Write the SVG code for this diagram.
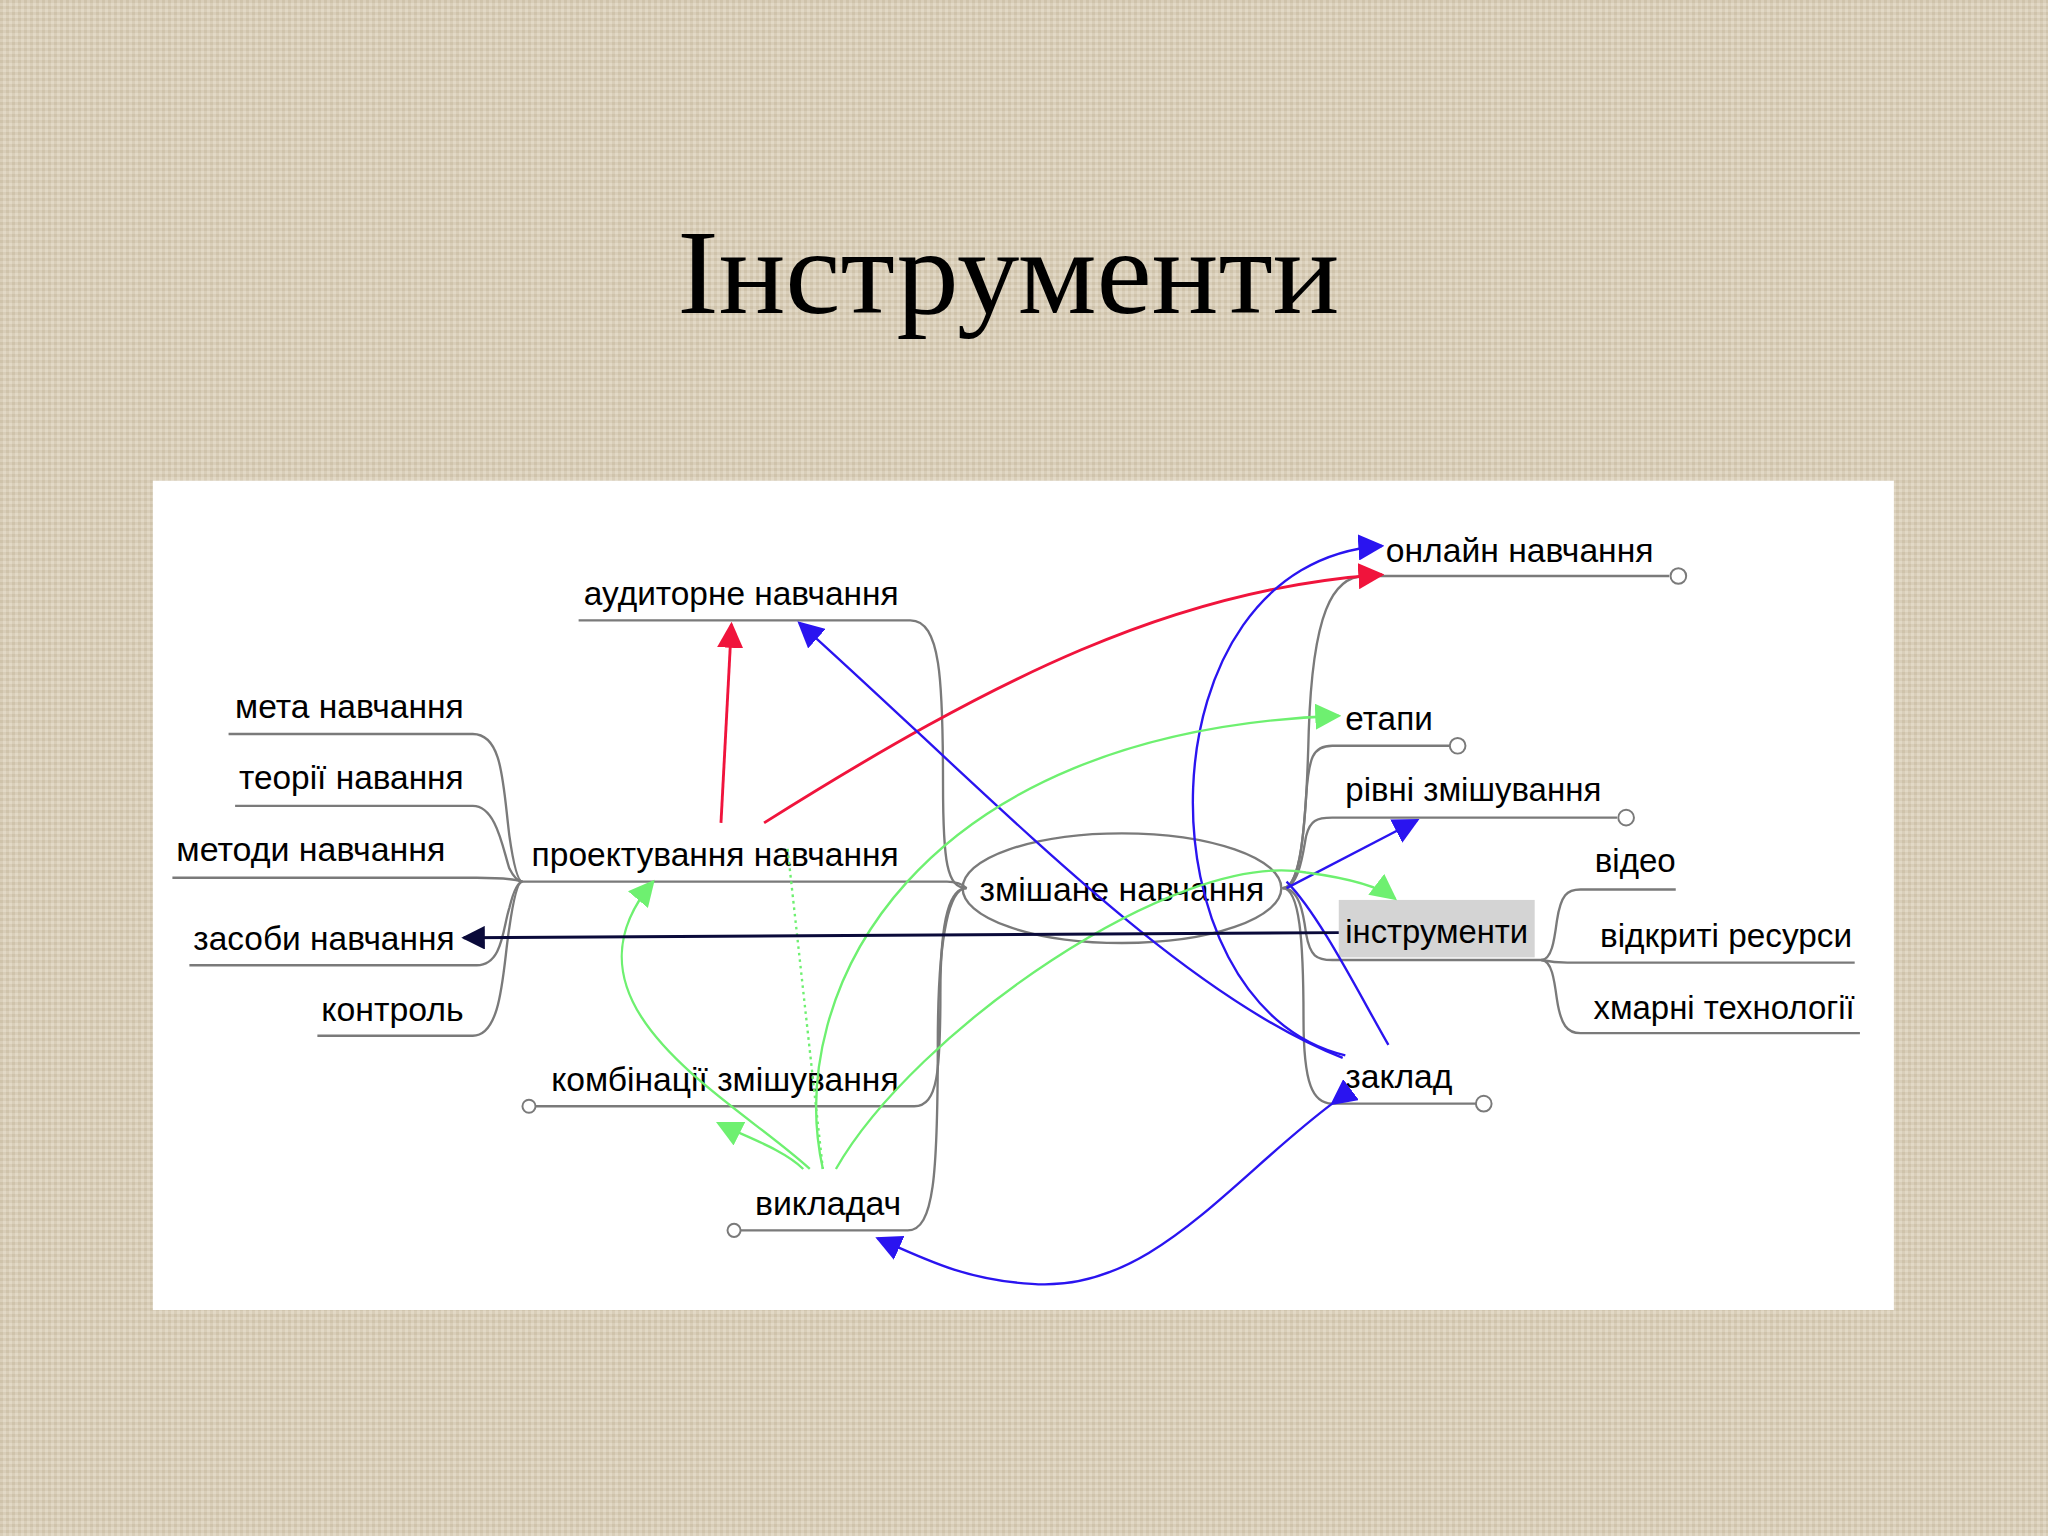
<svg xmlns="http://www.w3.org/2000/svg" width="2048" height="1536" viewBox="0 0 2048 1536">
<defs>
<pattern id="tex" width="6" height="6" patternUnits="userSpaceOnUse"><rect width="6" height="6" fill="#d9ceb9"/><rect width="3" height="3" fill="#cfc3ab"/><rect x="3" y="3" width="3" height="3" fill="#e2d9c6"/></pattern>
<marker id="mb" viewBox="0 0 10 10" refX="9" refY="5" markerWidth="20" markerHeight="20" markerUnits="userSpaceOnUse" orient="auto"><path d="M0,0L10,5L0,10z" fill="#2a14f0"/></marker>
<marker id="mr" viewBox="0 0 10 10" refX="9" refY="5" markerWidth="20" markerHeight="20" markerUnits="userSpaceOnUse" orient="auto"><path d="M0,0L10,5L0,10z" fill="#f0143c"/></marker>
<marker id="mg" viewBox="0 0 10 10" refX="9" refY="5" markerWidth="20" markerHeight="20" markerUnits="userSpaceOnUse" orient="auto"><path d="M0,0L10,5L0,10z" fill="#6ef070"/></marker>
<marker id="mk" viewBox="0 0 10 10" refX="9" refY="5" markerWidth="18" markerHeight="18" markerUnits="userSpaceOnUse" orient="auto"><path d="M0,0L10,5L0,10z" fill="#0a0a3a"/></marker>
<style>
.t{font-family:"Liberation Sans",Arial,sans-serif;font-size:26px;fill:#000}
.ln{fill:none;stroke:#7a7a7a;stroke-width:1.8}
.c{fill:#fff;stroke:#7a7a7a;stroke-width:1.5}
.b{fill:none;stroke:#2a14f0;stroke-width:1.8}
.r{fill:none;stroke:#f0143c;stroke-width:2.2}
.g{fill:none;stroke:#6ef070;stroke-width:1.8}
</style>
</defs>
<rect width="2048" height="1536" fill="url(#tex)"/>
<g transform="scale(1.30612)">
<text x="772" y="240" text-anchor="middle" font-family="Liberation Serif,serif" font-size="92" fill="#000" textLength="507" lengthAdjust="spacingAndGlyphs">Інструменти</text>
<rect x="117" y="368" width="1333" height="635" fill="#fff"/>
<rect x="1025" y="689" width="150" height="44" fill="#d4d4d4"/>
<g id="nodes">
<g id="n-zm"><ellipse cx="859" cy="680" rx="122" ry="42" class="ln"/><text class="t" x="750" y="690" textLength="218" lengthAdjust="spacingAndGlyphs">змішане навчання</text></g>
<g id="n-aud"><path class="ln" d="M443,475H697C720,475 722,520 722,600C722,660 725,680 740,680"/><text class="t" x="447" y="463" textLength="241" lengthAdjust="spacingAndGlyphs">аудиторне навчання</text></g>
<g id="n-proj"><path class="ln" d="M400,675H725Q735,675 740,680"/><text class="t" x="407" y="663" textLength="281" lengthAdjust="spacingAndGlyphs">проектування навчання</text></g>
<g id="n-komb"><path class="ln" d="M409,847H700C718,847 720,820 720,760C720,700 728,680 740,680"/><circle class="c" cx="405" cy="847" r="5"/><text class="t" x="422" y="835" textLength="266" lengthAdjust="spacingAndGlyphs">комбінації змішування</text></g>
<g id="n-vyk"><path class="ln" d="M567,942H695C715,942 718,900 718,800C718,710 728,680 740,680"/><circle class="c" cx="562" cy="942" r="5"/><text class="t" x="578" y="930" textLength="112" lengthAdjust="spacingAndGlyphs">викладач</text></g>
<g id="n-meta"><path class="ln" d="M175,562H362C385,562 385,600 390,640Q395,675 400,675"/><text class="t" x="180" y="550" textLength="175" lengthAdjust="spacingAndGlyphs">мета навчання</text></g>
<g id="n-teor"><path class="ln" d="M180,617H362C380,617 385,650 390,665Q395,675 400,675"/><text class="t" x="183" y="604" textLength="172" lengthAdjust="spacingAndGlyphs">теорії навання</text></g>
<g id="n-met"><path class="ln" d="M132,672H365Q390,672 400,675"/><text class="t" x="135" y="659" textLength="206" lengthAdjust="spacingAndGlyphs">методи навчання</text></g>
<g id="n-zas"><path class="ln" d="M145,739H365C385,739 385,710 390,695Q395,675 400,675"/><text class="t" x="148" y="727" textLength="200" lengthAdjust="spacingAndGlyphs">засоби навчання</text></g>
<g id="n-kontr"><path class="ln" d="M243,793H362C385,793 385,740 390,710Q395,675 400,675"/><text class="t" x="246" y="782" textLength="109" lengthAdjust="spacingAndGlyphs">контроль</text></g>
<g id="n-onl"><path class="ln" d="M982,680C995,680 1000,640 1002,560C1005,470 1020,441 1045,441H1278"/><circle class="c" cx="1285" cy="441" r="6"/><text class="t" x="1061" y="430" textLength="205" lengthAdjust="spacingAndGlyphs">онлайн навчання</text></g>
<g id="n-etap"><path class="ln" d="M982,680C995,680 998,640 1000,610C1002,580 1005,571 1020,571H1110"/><circle class="c" cx="1116" cy="571" r="6"/><text class="t" x="1030" y="559" textLength="67" lengthAdjust="spacingAndGlyphs">етапи</text></g>
<g id="n-rivni"><path class="ln" d="M982,680C995,680 998,650 1000,640C1003,628 1008,626 1020,626H1238"/><circle class="c" cx="1245" cy="626" r="6"/><text class="t" x="1030" y="613" textLength="196" lengthAdjust="spacingAndGlyphs">рівні змішування</text></g>
<g id="n-instr"><path class="ln" d="M982,680C995,680 998,700 1000,715C1003,732 1008,735 1020,735H1180"/><text class="t" x="1030" y="722" textLength="140" lengthAdjust="spacingAndGlyphs">інструменти</text></g>
<g id="n-zakl"><path class="ln" d="M982,680C995,680 998,720 998,780C998,830 1005,845 1020,845H1130"/><circle class="c" cx="1136" cy="845" r="6"/><text class="t" x="1030" y="833" textLength="82" lengthAdjust="spacingAndGlyphs">заклад</text></g>
<g id="n-video"><path class="ln" d="M1180,735C1188,735 1190,720 1192,705C1195,685 1200,681 1210,681H1283"/><text class="t" x="1221" y="668" textLength="62" lengthAdjust="spacingAndGlyphs">відео</text></g>
<g id="n-vidkr"><path class="ln" d="M1180,735Q1190,737 1200,737H1420"/><text class="t" x="1225" y="725" textLength="193" lengthAdjust="spacingAndGlyphs">відкриті ресурси</text></g>
<g id="n-hmar"><path class="ln" d="M1180,735C1188,735 1190,750 1192,765C1195,785 1200,791 1210,791H1424"/><text class="t" x="1220" y="780" textLength="200" lengthAdjust="spacingAndGlyphs">хмарні технології</text></g>
</g>
<g id="connectors">
<path class="r" d="M552,630L560,478" marker-end="url(#mr)"/>
<path class="r" d="M585,630C760,520 900,450 1058,440" marker-end="url(#mr)"/>
<path class="b" d="M1028,810C900,760 760,610 612,477" marker-end="url(#mb)"/>
<path class="b" d="M1030,808C870,770 870,430 1058,418" marker-end="url(#mb)"/>
<path class="b" d="M1063,800C1040,760 1010,700 985,675"/>
<path class="b" d="M985,680L1085,628" marker-end="url(#mb)"/>
<path class="b" d="M1020,845C940,905 880,990 790,983C740,980 710,965 672,948" marker-start="url(#mb)" marker-end="url(#mb)"/>
<path class="g" d="M630,895C600,760 700,560 1025,548" marker-end="url(#mg)"/>
<path class="g" d="M620,895C560,840 420,770 500,675" marker-end="url(#mg)"/>
<path class="g" d="M615,895C600,880 570,870 550,860" marker-end="url(#mg)"/>
<path class="g" d="M640,895C700,790 900,650 1000,668C1030,672 1055,678 1068,688" marker-end="url(#mg)"/>
<path class="g" d="M603,650L630,895" stroke-dasharray="2,3"/>
<path d="M1025,714L355,718" fill="none" stroke="#0a0a3a" stroke-width="2.2" marker-end="url(#mk)"/>
</g>
</g>
</svg>
